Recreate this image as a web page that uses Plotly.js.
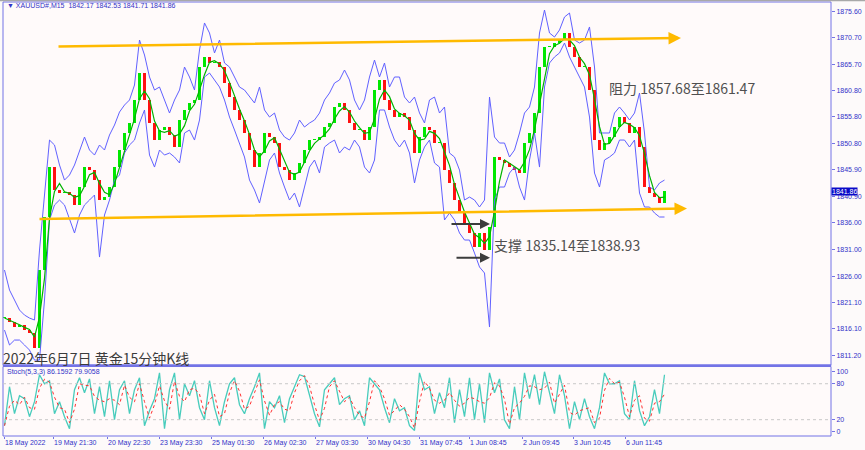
<!DOCTYPE html>
<html><head><meta charset="utf-8">
<script src="https://cdn.plot.ly/plotly-3.0.1.min.js"></script>
<style>html,body{margin:0;padding:0;background:#fdfafa;}#c{width:865px;height:450px;}</style>
</head><body><div id="c"></div>
<script>
// ---- data (15-minute bars, sampled) ----
const closePrice = [
 1818.13,1817.38,1816.45,1816.82,1815.88,1815.32,1812.51,1827.13,1837.06,1846.42,
 1842.12,1841.55,1841.74,1841.18,1839.31,1842.68,1846.42,1845.86,1843.98,1840.24,
 1840.80,1842.68,1846.42,1849.61,1852.80,1854.67,1858.98,1864.04,1858.98,1854.67,
 1851.48,1853.36,1853.92,1852.42,1850.17,1855.23,1857.11,1858.42,1858.98,1865.16,
 1867.04,1865.91,1866.10,1865.16,1862.16,1859.54,1857.11,1855.23,1852.80,1849.61,
 1846.42,1849.05,1852.80,1852.05,1850.92,1846.42,1845.86,1843.98,1845.30,1847.18,
 1849.61,1851.48,1851.48,1852.05,1853.92,1854.67,1857.67,1858.42,1857.11,1854.67,
 1853.36,1853.36,1851.48,1853.92,1860.85,1862.73,1858.98,1857.11,1855.79,1856.54,
 1855.79,1853.36,1849.05,1852.05,1853.92,1853.36,1850.92,1850.92,1845.86,1843.43,
 1840.24,1837.81,1835.93,1834.06,1831.44,1834.06,1830.87,1835.18,1848.30,1847.74,
 1847.18,1846.42,1845.86,1845.30,1850.92,1852.80,1856.54,1865.16,1868.91,1868.91,
 1869.66,1870.22,1871.53,1868.91,1867.04,1865.16,1865.16,1860.85,1851.48,1849.61,
 1850.92,1852.05,1853.92,1855.79,1854.67,1852.80,1853.92,1850.17,1842.68,1841.55,
 1840.80,1839.68,1841.86];
const upperBand = [
 1827.13,1823.38,1821.51,1819.63,1818.69,1818.13,1817.76,1830.87,1841.18,1851.48,
 1850.55,1846.80,1843.98,1844.93,1846.80,1849.61,1852.05,1849.61,1848.67,1850.55,
 1849.61,1852.42,1854.29,1856.73,1858.04,1858.98,1861.79,1870.22,1867.41,1863.29,
 1860.85,1861.41,1858.98,1856.54,1858.98,1860.85,1865.16,1863.29,1860.85,1868.35,
 1873.41,1871.53,1867.79,1870.22,1865.91,1865.16,1863.29,1861.41,1860.85,1859.54,
 1858.42,1861.41,1857.11,1855.79,1856.54,1853.36,1852.05,1851.48,1852.80,1855.23,
 1853.92,1854.67,1855.23,1856.54,1858.98,1860.29,1862.16,1862.73,1864.60,1862.73,
 1858.98,1857.11,1858.98,1863.29,1866.47,1863.29,1865.91,1861.41,1863.29,1863.29,
 1859.54,1858.42,1859.54,1856.54,1854.67,1858.98,1859.54,1856.54,1857.67,1849.05,
 1848.30,1845.86,1840.24,1840.80,1840.24,1838.93,1840.24,1859.54,1852.05,1850.92,
 1850.92,1848.30,1849.61,1852.80,1856.54,1857.67,1861.41,1871.53,1875.84,1871.53,
 1870.78,1872.10,1874.53,1875.28,1870.22,1869.66,1870.22,1872.66,1865.16,1852.80,
 1852.80,1852.80,1856.54,1857.67,1856.54,1855.23,1856.54,1860.29,1852.80,1842.68,
 1842.12,1843.43,1843.98];
const lowerBand = [
 1815.88,1813.08,1814.01,1814.01,1813.08,1812.14,1810.26,1810.26,1821.51,1836.50,
 1839.31,1840.24,1839.31,1836.50,1834.06,1837.43,1839.31,1840.24,1841.18,1829.56,
 1837.43,1840.24,1843.98,1844.93,1849.05,1850.55,1851.48,1854.67,1857.11,1848.67,
 1846.42,1849.61,1848.67,1849.05,1848.30,1847.18,1852.80,1853.36,1851.48,1855.23,
 1863.29,1864.04,1862.73,1861.41,1858.98,1855.79,1853.36,1850.92,1848.30,1843.98,
 1842.12,1839.68,1843.98,1847.74,1849.05,1845.30,1842.68,1840.24,1841.55,1838.93,
 1842.68,1846.42,1847.74,1845.30,1850.17,1850.92,1851.48,1849.05,1850.17,1849.61,
 1851.48,1850.17,1846.42,1845.30,1847.74,1857.11,1857.11,1853.92,1851.48,1850.17,
 1851.48,1849.05,1843.43,1847.74,1850.17,1851.48,1847.18,1846.42,1836.50,1837.81,
 1836.50,1834.06,1832.75,1832.75,1830.31,1827.69,1826.57,1816.45,1840.24,1842.68,
 1842.68,1845.30,1846.42,1842.68,1840.24,1847.74,1852.80,1846.42,1861.41,1865.91,
 1867.04,1867.79,1869.66,1867.04,1865.16,1863.29,1861.41,1855.79,1845.30,1842.68,
 1847.74,1848.30,1849.05,1851.48,1851.48,1850.17,1851.48,1841.55,1838.93,1838.93,
 1837.81,1837.06,1837.06];
const stochK = [
 10,75,30,60,55,25,50,95,80,85,
 30,50,25,5,70,90,65,88,30,75,
 25,85,20,70,85,30,70,90,10,35,
 55,98,5,70,98,20,80,60,85,40,
 20,85,40,10,50,80,90,45,30,55,
 75,98,5,50,40,60,15,55,75,95,
 92,60,30,8,70,80,90,45,55,60,
 20,35,10,90,80,70,40,15,55,35,
 40,10,2,98,70,75,30,65,40,90,
 15,70,25,90,20,80,15,98,65,88,
 20,5,75,20,98,55,95,45,100,65,
 30,95,60,5,50,20,55,25,5,40,
 98,80,80,85,30,20,85,35,10,25,
 70,30,95];
const tickPos = [0, 9.8, 20.6, 31, 41.4, 51.8, 62.2, 72.6, 83, 93, 103.6, 113.8, 124.2];
const tickLabels = ["18 May 2022","19 May 21:30","20 May 22:30","23 May 23:30","25 May 01:30",
 "26 May 02:30","27 May 03:30","30 May 04:30","31 May 07:45","1 Jun 08:45","2 Jun 09:45",
 "3 Jun 10:45","6 Jun 11:45"];
const priceTicks = [1875.60,1870.70,1865.70,1860.80,1855.80,1850.80,1845.90,1840.90,1836.00,1831.00,1826.00,1821.10,1816.10,1811.20];
const stochTicks = [0,20,80,100];

// ---- derived ----
const idx = closePrice.map((_, i) => i);
const openPrice = closePrice.map((v, i) => i === 0 ? v : closePrice[i - 1]);
const bodyBase = closePrice.map((v, i) => Math.min(v, openPrice[i]));
const bodyHeight = closePrice.map((v, i) => Math.max(Math.abs(v - openPrice[i]), 0.25));
const bodyColor = closePrice.map((v, i) => v >= openPrice[i] ? '#00e800' : '#ff1010');
const maLine = closePrice.map((v, i) => {
  const s = closePrice.slice(Math.max(0, i - 2), i + 1);
  return s.reduce((a, b) => a + b, 0) / s.length;
});
const stochD = stochK.map((v, i) => {
  const s = stochK.slice(Math.max(0, i - 1), i + 1);
  return s.reduce((a, b) => a + b, 0) / s.length;
});

const BLUE = '#3232c8';
const FRAME = '#7373e6';
const fontSmall = {family: 'Liberation Sans, Arial, sans-serif', size: 7, color: BLUE};
const cjk = 'Noto Sans CJK SC, sans-serif';

const traces = [
  {type: 'scatter', mode: 'lines', x: idx, y: upperBand, line: {color: '#6060ff', width: 1}, hoverinfo: 'skip'},
  {type: 'scatter', mode: 'lines', x: idx, y: lowerBand, line: {color: '#6060ff', width: 1}, hoverinfo: 'skip'},
  {type: 'bar', x: idx, y: bodyHeight, base: bodyBase, width: 0.55,
   marker: {color: bodyColor, line: {width: 0}}, hoverinfo: 'skip'},
  {type: 'scatter', mode: 'lines', x: idx, y: maLine, line: {color: '#00b400', width: 1.2}, hoverinfo: 'skip'},
  {type: 'scatter', mode: 'lines', x: idx, y: stochK, xaxis: 'x', yaxis: 'y2', line: {color: '#48ccbc', width: 1.3}, hoverinfo: 'skip'},
  {type: 'scatter', mode: 'lines', x: idx, y: stochD, xaxis: 'x', yaxis: 'y2', line: {color: '#ff3030', width: 1, dash: 'dot'}, hoverinfo: 'skip'}
];

const mainBottom = 0.1624, stochTop = 0.1601;
const layout = {
  width: 865, height: 450,
  margin: {l: 3, r: 34, t: 2, b: 14},
  paper_bgcolor: '#fdfafa', plot_bgcolor: '#fffafa',
  showlegend: false, bargap: 0,
  xaxis: {range: [-0.3, 165.3], anchor: 'y2', tickmode: 'array', tickvals: tickPos, ticktext: tickLabels,
          ticks: 'outside', ticklen: 2, tickcolor: FRAME, ticklabelposition: 'outside right', tickangle: 0,
          tickfont: fontSmall, showgrid: false, zeroline: false, showline: false, fixedrange: true},
  yaxis: {domain: [mainBottom, 1], range: [1809.24, 1877.34], side: 'right', anchor: 'x',
          tickmode: 'array', tickvals: priceTicks, ticktext: priceTicks.map(v => v.toFixed(2)),
          ticks: 'outside', ticklen: 3, tickcolor: FRAME, tickfont: fontSmall,
          showgrid: false, zeroline: false, showline: false, fixedrange: true},
  yaxis2: {domain: [0, stochTop], range: [-7.2, 108.7], side: 'right', anchor: 'x',
          tickmode: 'array', tickvals: stochTicks, ticktext: stochTicks.map(String),
          ticks: 'outside', ticklen: 3, tickcolor: FRAME, tickfont: fontSmall,
          showgrid: false, zeroline: false, showline: false, fixedrange: true},
  shapes: [
    {type: 'rect', xref: 'paper', yref: 'paper', x0: 0, x1: 1, y0: mainBottom, y1: 1, line: {color: FRAME, width: 1}},
    {type: 'line', xref: 'paper', yref: 'paper', x0: 0, x1: 1, y0: mainBottom, y1: mainBottom, line: {color: FRAME, width: 2.5}},
    {type: 'rect', xref: 'paper', yref: 'paper', x0: 0, x1: 1, y0: 0, y1: stochTop, line: {color: FRAME, width: 1}},
    {type: 'line', xref: 'paper', yref: 'y2', x0: 0, x1: 1, y0: 80, y1: 80, line: {color: '#c8c8c8', width: 1, dash: 'dot'}},
    {type: 'line', xref: 'paper', yref: 'y2', x0: 0, x1: 1, y0: 20, y1: 20, line: {color: '#c8c8c8', width: 1, dash: 'dot'}},
    {type: 'line', xref: 'paper', yref: 'paper', x0: -0.01, x1: 1.05, y0: 1.004, y1: 1.004, line: {color: '#a8a8a8', width: 2}}
  ],
  annotations: [
    {xref: 'paper', yref: 'paper', x: 0.003, y: 0.993, xanchor: 'left', yanchor: 'middle', showarrow: false,
     text: '▼ XAUUSD#,M15  1842.17 1842.53 1841.71 1841.86', font: {family: 'Liberation Sans, Arial', size: 7, color: BLUE}},
    {xref: 'paper', yref: 'paper', x: 0.003, y: 0.148, xanchor: 'left', yanchor: 'middle', showarrow: false,
     text: 'Stoch(5,3,3) 86.1592 79.9058', font: {family: 'Liberation Sans, Arial', size: 7, color: BLUE}},
    {xref: 'paper', yref: 'paper', x: -0.003, y: 0.18, xanchor: 'left', yanchor: 'middle', showarrow: false,
     text: '2022年6月7日 黄金15分钟K线', font: {family: cjk, size: 14, color: '#3c3c3c'}},
    {xref: 'x', yref: 'y', x: 120.5, y: 1861.2, xanchor: 'left', yanchor: 'middle', showarrow: false,
     text: '阻力 1857.68至1861.47', font: {family: cjk, size: 14, color: '#505050'}},
    {xref: 'x', yref: 'y', x: 97.4, y: 1831.8, xanchor: 'left', yanchor: 'middle', showarrow: false,
     text: '支撑 1835.14至1838.93', font: {family: cjk, size: 14, color: '#505050'}},
    {xref: 'x', yref: 'y', axref: 'x', ayref: 'y', x: 135.3, y: 1870.6, ax: 10.5, ay: 1869.0, text: '',
     showarrow: true, arrowhead: 2, arrowsize: 1, arrowwidth: 2.5, arrowcolor: '#ffba00'},
    {xref: 'x', yref: 'y', axref: 'x', ayref: 'y', x: 136.5, y: 1838.65, ax: 6.7, ay: 1836.68, text: '',
     showarrow: true, arrowhead: 2, arrowsize: 1, arrowwidth: 2.5, arrowcolor: '#ffba00'},
    {xref: 'x', yref: 'y', axref: 'x', ayref: 'y', x: 97.1, y: 1835.75, ax: 89.1, ay: 1835.75, text: '',
     showarrow: true, arrowhead: 2, arrowsize: 1, arrowwidth: 2, arrowcolor: '#3c3c3c'},
    {xref: 'x', yref: 'y', axref: 'x', ayref: 'y', x: 97.1, y: 1829.43, ax: 90.1, ay: 1829.43, text: '',
     showarrow: true, arrowhead: 2, arrowsize: 1, arrowwidth: 2, arrowcolor: '#3c3c3c'},
    {xref: 'paper', yref: 'y', x: 1.0, y: closePrice[closePrice.length - 1], xanchor: 'left', yanchor: 'middle',
     showarrow: false, text: closePrice[closePrice.length - 1].toFixed(2), bgcolor: '#0a0ac8', borderpad: 0,
     font: {family: 'Liberation Sans, Arial', size: 7, color: '#ffffff'}}
  ]
};

Plotly.newPlot('c', traces, layout, {staticPlot: true, displayModeBar: false});
</script>
</body></html>
